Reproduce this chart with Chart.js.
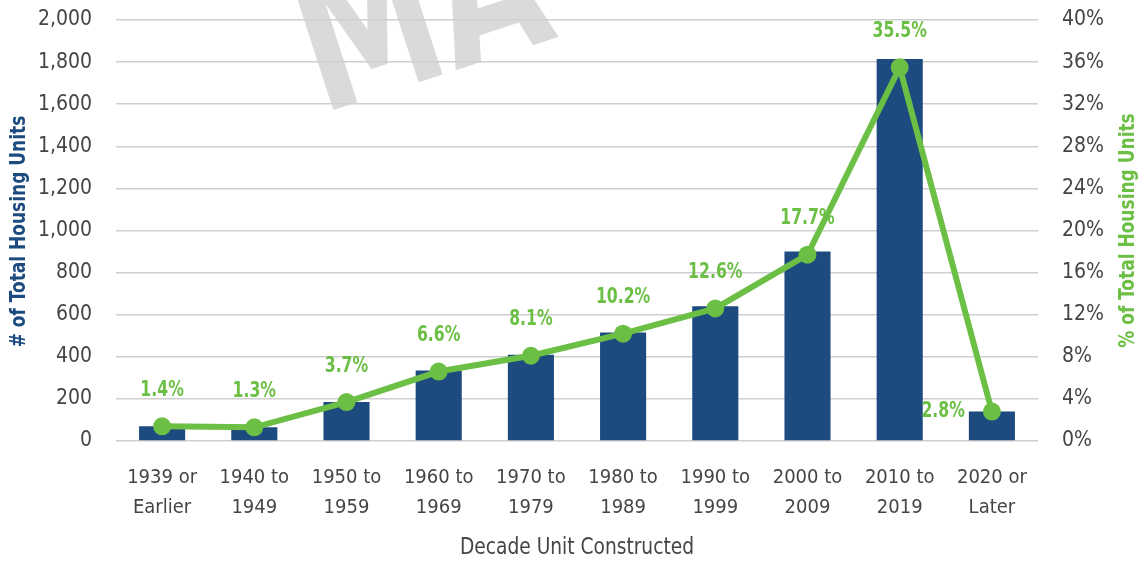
<!DOCTYPE html>
<html>
<head>
<meta charset="utf-8">
<script src="https://cdn.jsdelivr.net/npm/chart.js@4.4.0/dist/chart.umd.min.js"></script>
<style>
    html, body { margin: 0; padding: 0; background: #fff; }
    #wrap { width: 1142px; height: 561px; }
</style>
</head>
<body>
<div id="wrap"><canvas id="chart" width="1142" height="561"></canvas></div>
<script>
// data
const decades = [
    ["1939 or", "Earlier"], ["1940 to", "1949"], ["1950 to", "1959"], ["1960 to", "1969"],
    ["1970 to", "1979"], ["1980 to", "1989"], ["1990 to", "1999"], ["2000 to", "2009"],
    ["2010 to", "2019"], ["2020 or", "Later"]
];
const housingUnits = [70, 65, 185, 335, 410, 515, 640, 900, 1815, 140];
const shareOfTotal = [1.4, 1.3, 3.7, 6.6, 8.1, 10.2, 12.6, 17.7, 35.5, 2.8];

const leftTitle = "# of Total Housing Units";
const rightTitle = "% of Total Housing Units";
const bottomTitle = "Decade Unit Constructed";
const watermark = "MA";

const NARROW = "'DejaVu Sans Condensed', 'Liberation Sans Narrow', sans-serif";
const BLUE = "#1d4b80";
const GREEN = "#6cbf45";
const GREY_TEXT = "#454545";

// draws text squeezed horizontally so it looks like the narrow face in the original
function narrowText(ctx, txt, x, y, squeeze, angle) {
    ctx.save();
    ctx.translate(x, y);
    if (angle) ctx.rotate(angle);
    ctx.scale(squeeze, 1);
    ctx.fillText(txt, 0, 0);
    ctx.restore();
}

// y axes: keep the label padding from pushing the plot down
function fixSideAxis(width) {
    return s => {
        s.width = width;
        s.paddingTop = 0;
        s.paddingBottom = 0;
    };
}

const decor = {
    id: "decor",
    beforeDraw(chart) {
        const ctx = chart.ctx;
        ctx.save();
        ctx.translate(321, 114);
        ctx.rotate(-18 * Math.PI / 180);
        ctx.scale(0.85, 1.05);
        ctx.fillStyle = "#dadada";
        ctx.font = "bold 185px " + NARROW;
        ctx.textBaseline = "alphabetic";
        ctx.fillText(watermark, 0, 0);
        ctx.restore();
    },
    afterDatasetsDraw(chart) {
        const ctx = chart.ctx;
        const meta = chart.getDatasetMeta(1);
        ctx.save();
        ctx.font = "bold 21px " + NARROW;
        ctx.fillStyle = GREEN;
        ctx.textBaseline = "middle";
        meta.data.forEach((pt, i) => {
            const txt = shareOfTotal[i].toFixed(1) + "%";
            if (i === meta.data.length - 1) {
                ctx.textAlign = "right";
                narrowText(ctx, txt, pt.x - 27, pt.y, 0.83);
            } else {
                ctx.textAlign = "center";
                narrowText(ctx, txt, pt.x, pt.y - 36, 0.83);
            }
        });
        ctx.restore();
    },
    afterDraw(chart) {
        const ctx = chart.ctx;
        const area = chart.chartArea;
        const midY = (area.top + area.bottom) / 2;
        ctx.save();
        ctx.textAlign = "center";
        ctx.textBaseline = "middle";

        ctx.font = "bold 22px " + NARROW;
        ctx.fillStyle = BLUE;
        narrowText(ctx, leftTitle, 19, midY + 1, 0.86, -Math.PI / 2);

        ctx.fillStyle = GREEN;
        narrowText(ctx, rightTitle, 1128, midY, 0.86, -Math.PI / 2);

        ctx.font = "23px " + NARROW;
        ctx.fillStyle = GREY_TEXT;
        narrowText(ctx, bottomTitle, (area.left + area.right) / 2, 548, 0.9);
        ctx.restore();
    }
};

new Chart(document.getElementById("chart"), {
    data: {
        labels: decades,
        datasets: [
            {
                type: "bar",
                data: housingUnits,
                backgroundColor: BLUE,
                barPercentage: 0.5,
                categoryPercentage: 1,
                yAxisID: "y",
                order: 1
            },
            {
                type: "line",
                data: shareOfTotal,
                borderColor: GREEN,
                backgroundColor: GREEN,
                borderWidth: 6,
                pointRadius: 9,
                pointBackgroundColor: GREEN,
                pointBorderWidth: 0,
                tension: 0,
                yAxisID: "y1",
                order: 0
            }
        ]
    },
    options: {
        responsive: false,
        devicePixelRatio: 1,
        animation: false,
        layout: { padding: { top: 20, left: 0, right: 0, bottom: 0 } },
        plugins: { legend: { display: false }, tooltip: { enabled: false } },
        scales: {
            x: {
                offset: true,
                grid: { display: false },
                border: { display: false },
                ticks: {
                    color: GREY_TEXT,
                    padding: 14,
                    maxRotation: 0,
                    autoSkip: false,
                    font: { family: NARROW, size: 20, lineHeight: 1.5 }
                },
                afterFit: s => { s.height = 120; }
            },
            y: {
                position: "left",
                min: 0,
                max: 2000,
                grid: { color: "#cfcfcf", lineWidth: 1.5, drawTicks: false },
                border: { display: false },
                ticks: {
                    stepSize: 200,
                    padding: 24,
                    color: GREY_TEXT,
                    font: { family: NARROW, size: 21 },
                    callback: v => v.toLocaleString("en-US")
                },
                afterFit: fixSideAxis(116)
            },
            y1: {
                position: "right",
                min: 0,
                max: 40,
                grid: { display: false, drawTicks: false },
                border: { display: false },
                ticks: {
                    stepSize: 4,
                    padding: 24,
                    color: GREY_TEXT,
                    font: { family: NARROW, size: 21 },
                    callback: v => v + "%"
                },
                afterFit: fixSideAxis(104)
            }
        }
    },
    plugins: [decor]
});
</script>
</body>
</html>
